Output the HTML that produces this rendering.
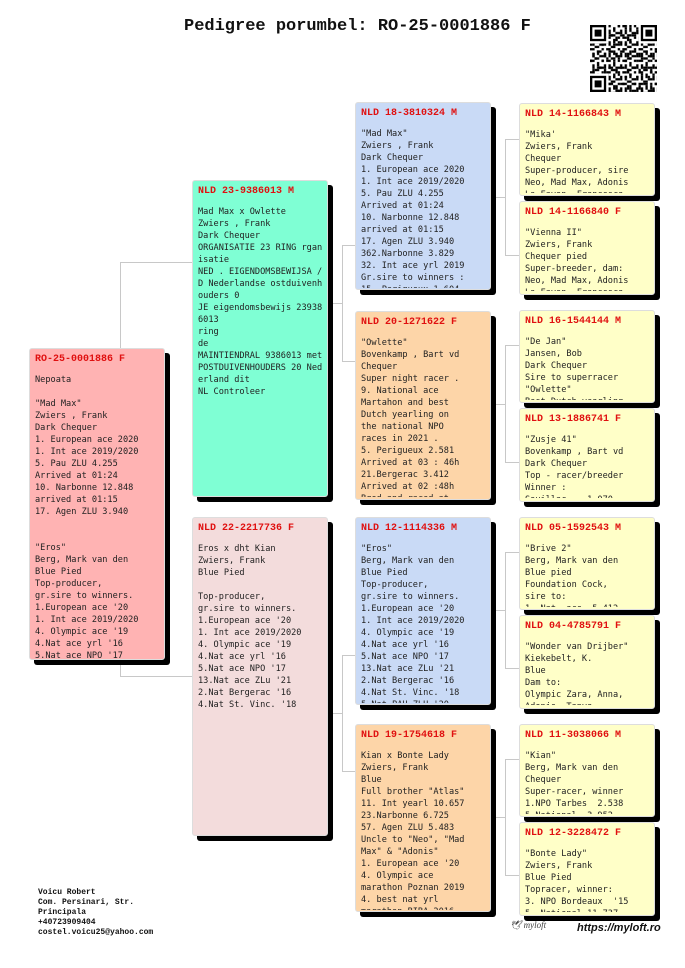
<!DOCTYPE html>
<html><head><meta charset="utf-8"><style>
*{margin:0;padding:0;box-sizing:border-box}
body{width:685px;height:968px;background:#fff;position:relative;overflow:hidden;font-family:"DejaVu Sans Mono","Liberation Mono",monospace}
.b{position:absolute;border:1px solid #ddd;border-radius:3px;box-shadow:5px 5px 0 #000;overflow:hidden}
.h{position:absolute;left:5px;top:5px;font:bold 10px/12px "Liberation Mono",monospace;color:#e01010;white-space:nowrap}
.t{position:absolute;left:5px;top:25px;right:2px;font-size:8.6px;line-height:12px;color:#222;white-space:pre;overflow:hidden}
.ln{position:absolute;background:#c8c8c8}
.title{position:absolute;left:184px;top:17px;font:bold 17px "Liberation Mono",monospace;color:#111}
.foot{position:absolute;left:38px;top:888px;font:bold 8px/10px "Liberation Mono",monospace;color:#111}
</style></head><body>
<div class="title">Pedigree porumbel: RO-25-0001886 F</div>
<svg style="position:absolute;left:590px;top:25px" width="67" height="67" viewBox="0 0 29 29">
<defs><pattern id="q" width="7" height="5" patternUnits="userSpaceOnUse">
<rect x="0" y="0" width="2" height="1"/><rect x="3" y="1" width="1" height="2"/><rect x="5" y="0" width="1" height="1"/><rect x="1" y="2" width="1" height="2"/><rect x="4" y="3" width="2" height="1"/><rect x="6" y="2" width="1" height="2"/><rect x="2" y="4" width="2" height="1"/></pattern>
<pattern id="q2" width="5" height="7" patternUnits="userSpaceOnUse"><rect x="0" y="1" width="1" height="1"/><rect x="2" y="0" width="1" height="1"/><rect x="3" y="4" width="2" height="1"/><rect x="1" y="5" width="1" height="2"/></pattern></defs>
<rect width="29" height="29" fill="url(#q)"/><rect width="29" height="29" fill="url(#q2)"/>
<g><rect x="0" y="0" width="8" height="8" fill="#fff"/><rect x="0.5" y="0.5" width="6" height="6" fill="none" stroke="#000"/><rect x="2" y="2" width="3" height="3"/>
<rect x="21" y="0" width="8" height="8" fill="#fff"/><rect x="22.5" y="0.5" width="6" height="6" fill="none" stroke="#000"/><rect x="24" y="2" width="3" height="3"/>
<rect x="0" y="21" width="8" height="8" fill="#fff"/><rect x="0.5" y="22.5" width="6" height="6" fill="none" stroke="#000"/><rect x="2" y="24" width="3" height="3"/></g>
</svg>

<!-- connectors -->
<div class="ln" style="left:120px;top:262px;width:1px;height:414px"></div>
<div class="ln" style="left:120px;top:262px;width:72px;height:1px"></div>
<div class="ln" style="left:120px;top:676px;width:72px;height:1px"></div>
<div class="ln" style="left:327px;top:303px;width:16px;height:1px"></div>
<div class="ln" style="left:342px;top:245px;width:1px;height:116px"></div>
<div class="ln" style="left:342px;top:245px;width:13px;height:1px"></div>
<div class="ln" style="left:342px;top:361px;width:13px;height:1px"></div>
<div class="ln" style="left:327px;top:713px;width:16px;height:1px"></div>
<div class="ln" style="left:342px;top:655px;width:1px;height:116px"></div>
<div class="ln" style="left:342px;top:655px;width:13px;height:1px"></div>
<div class="ln" style="left:342px;top:771px;width:13px;height:1px"></div>
<div class="ln" style="left:490px;top:197px;width:16px;height:1px"></div>
<div class="ln" style="left:505px;top:139px;width:1px;height:116px"></div>
<div class="ln" style="left:505px;top:139px;width:14px;height:1px"></div>
<div class="ln" style="left:505px;top:255px;width:14px;height:1px"></div>
<div class="ln" style="left:490px;top:404px;width:16px;height:1px"></div>
<div class="ln" style="left:505px;top:345px;width:1px;height:117px"></div>
<div class="ln" style="left:505px;top:345px;width:14px;height:1px"></div>
<div class="ln" style="left:505px;top:462px;width:14px;height:1px"></div>
<div class="ln" style="left:490px;top:610px;width:16px;height:1px"></div>
<div class="ln" style="left:505px;top:552px;width:1px;height:116px"></div>
<div class="ln" style="left:505px;top:552px;width:14px;height:1px"></div>
<div class="ln" style="left:505px;top:668px;width:14px;height:1px"></div>
<div class="ln" style="left:490px;top:817px;width:16px;height:1px"></div>
<div class="ln" style="left:505px;top:759px;width:1px;height:116px"></div>
<div class="ln" style="left:505px;top:759px;width:14px;height:1px"></div>
<div class="ln" style="left:505px;top:875px;width:14px;height:1px"></div>

<!-- root -->
<div class="b" style="left:29px;top:348px;width:136px;height:312px;background:#ffb3b3">
<div class="h">RO-25-0001886 F</div>
<div class="t" style="height:288px">Nepoata

"Mad Max"
Zwiers , Frank
Dark Chequer
1. European ace 2020
1. Int ace 2019/2020
5. Pau ZLU 4.255
Arrived at 01:24
10. Narbonne 12.848
arrived at 01:15
17. Agen ZLU 3.940


"Eros"
Berg, Mark van den
Blue Pied
Top-producer,
gr.sire to winners.
1.European ace '20
1. Int ace 2019/2020
4. Olympic ace '19
4.Nat ace yrl '16
5.Nat ace NPO '17</div></div>

<!-- gen1 -->
<div class="b" style="left:192px;top:180px;width:136px;height:317px;background:#7fffd4">
<div class="h">NLD 23-9386013 M</div>
<div class="t" style="height:285px">Mad Max x Owlette
Zwiers , Frank
Dark Chequer
ORGANISATIE 23 RING rgan
isatie
NED . EIGENDOMSBEWIJSA /
D Nederlandse ostduivenh
ouders 0
JE eigendomsbewijs 23938
6013
ring
de
MAINTIENDRAL 9386013 met
POSTDUIVENHOUDERS 20 Ned
erland dit
NL Controleer</div></div>
<div class="b" style="left:192px;top:517px;width:136px;height:319px;background:#f3dcdc">
<div class="h">NLD 22-2217736 F</div>
<div class="t" style="height:285px">Eros x dht Kian
Zwiers, Frank
Blue Pied

Top-producer,
gr.sire to winners.
1.European ace '20
1. Int ace 2019/2020
4. Olympic ace '19
4.Nat ace yrl '16
5.Nat ace NPO '17
13.Nat ace ZLu '21
2.Nat Bergerac '16
4.Nat St. Vinc. '18</div></div>

<!-- gen2 -->
<div class="b" style="left:355px;top:102px;width:136px;height:188px;background:#c9daf6">
<div class="h">NLD 18-3810324 M</div>
<div class="t" style="height:160px">"Mad Max"
Zwiers , Frank
Dark Chequer
1. European ace 2020
1. Int ace 2019/2020
5. Pau ZLU 4.255
Arrived at 01:24
10. Narbonne 12.848
arrived at 01:15
17. Agen ZLU 3.940
362.Narbonne 3.829
32. Int ace yrl 2019
Gr.sire to winners :
15. Perigueux 1.604</div></div>
<div class="b" style="left:355px;top:311px;width:136px;height:189px;background:#fdd5a8">
<div class="h">NLD 20-1271622 F</div>
<div class="t" style="height:160px">"Owlette"
Bovenkamp , Bart vd
Chequer
Super night racer .
9. National ace
Martahon and best
Dutch yearling on
the national NPO
races in 2021 .
5. Perigueux 2.581
Arrived at 03 : 46h
21.Bergerac 3.412
Arrived at 02 :48h
Bred and raced at</div></div>
<div class="b" style="left:355px;top:517px;width:136px;height:188px;background:#c9daf6">
<div class="h">NLD 12-1114336 M</div>
<div class="t" style="height:160px">"Eros"
Berg, Mark van den
Blue Pied
Top-producer,
gr.sire to winners.
1.European ace '20
1. Int ace 2019/2020
4. Olympic ace '19
4.Nat ace yrl '16
5.Nat ace NPO '17
13.Nat ace ZLu '21
2.Nat Bergerac '16
4.Nat St. Vinc. '18
5.Nat PAU ZLU '20</div></div>
<div class="b" style="left:355px;top:724px;width:136px;height:188px;background:#fdd5a8">
<div class="h">NLD 19-1754618 F</div>
<div class="t" style="height:160px">Kian x Bonte Lady
Zwiers, Frank
Blue
Full brother "Atlas"
11. Int yearl 10.657
23.Narbonne 6.725
57. Agen ZLU 5.483
Uncle to "Neo", "Mad
Max" &amp; "Adonis"
1. European ace '20
4. Olympic ace
marathon Poznan 2019
4. best nat yrl
marathon BIBA 2016</div></div>

<!-- gen3 -->
<div class="b" style="left:519px;top:103px;width:136px;height:93px;background:#ffffc8">
<div class="h">NLD 14-1166843 M</div>
<div class="t" style="height:64px">"Mika'
Zwiers, Frank
Chequer
Super-producer, sire
Neo, Mad Max, Adonis
La Fayon, Francesca</div></div>
<div class="b" style="left:519px;top:201px;width:136px;height:94px;background:#ffffc8">
<div class="h">NLD 14-1166840 F</div>
<div class="t" style="height:64px">"Vienna II"
Zwiers, Frank
Chequer pied
Super-breeder, dam:
Neo, Mad Max, Adonis
La Fayon, Francesca</div></div>
<div class="b" style="left:519px;top:310px;width:136px;height:93px;background:#ffffc8">
<div class="h">NLD 16-1544144 M</div>
<div class="t" style="height:64px">"De Jan"
Jansen, Bob
Dark Chequer
Sire to superracer
"Owlette"
Best Dutch yearling</div></div>
<div class="b" style="left:519px;top:408px;width:136px;height:94px;background:#ffffc8">
<div class="h">NLD 13-1886741 F</div>
<div class="t" style="height:64px">"Zusje 41"
Bovenkamp , Bart vd
Dark Chequer
Top - racer/breeder
Winner :
Souillac    1.070</div></div>
<div class="b" style="left:519px;top:517px;width:136px;height:93px;background:#ffffc8">
<div class="h">NLD 05-1592543 M</div>
<div class="t" style="height:64px">"Brive 2"
Berg, Mark van den
Blue pied
Foundation Cock,
sire to:
1. Nat. ace  5.412</div></div>
<div class="b" style="left:519px;top:615px;width:136px;height:94px;background:#ffffc8">
<div class="h">NLD 04-4785791 F</div>
<div class="t" style="height:64px">"Wonder van Drijber"
Kiekebelt, K.
Blue
Dam to:
Olympic Zara, Anna,
Adonis, Tanya</div></div>
<div class="b" style="left:519px;top:724px;width:136px;height:93px;background:#ffffc8">
<div class="h">NLD 11-3038066 M</div>
<div class="t" style="height:64px">"Kian"
Berg, Mark van den
Chequer
Super-racer, winner
1.NPO Tarbes  2.538
5.National  3.952</div></div>
<div class="b" style="left:519px;top:822px;width:136px;height:94px;background:#ffffc8">
<div class="h">NLD 12-3228472 F</div>
<div class="t" style="height:64px">"Bonte Lady"
Zwiers, Frank
Blue Pied
Topracer, winner:
3. NPO Bordeaux  '15
5. National 11.737</div></div>

<div class="foot">Voicu Robert<br>Com. Persinari, Str.<br>Principala<br>+40723909404<br>costel.voicu25@yahoo.com</div>
<div style="position:absolute;left:510px;top:920px;font:italic 9px 'Liberation Serif',serif;color:#444">&#x1F54A;&#xFE0E; myloft</div>
<div style="position:absolute;left:577px;top:922px;font:italic bold 11px 'Liberation Sans',sans-serif;color:#111">https://myloft.ro</div>
</body></html>
